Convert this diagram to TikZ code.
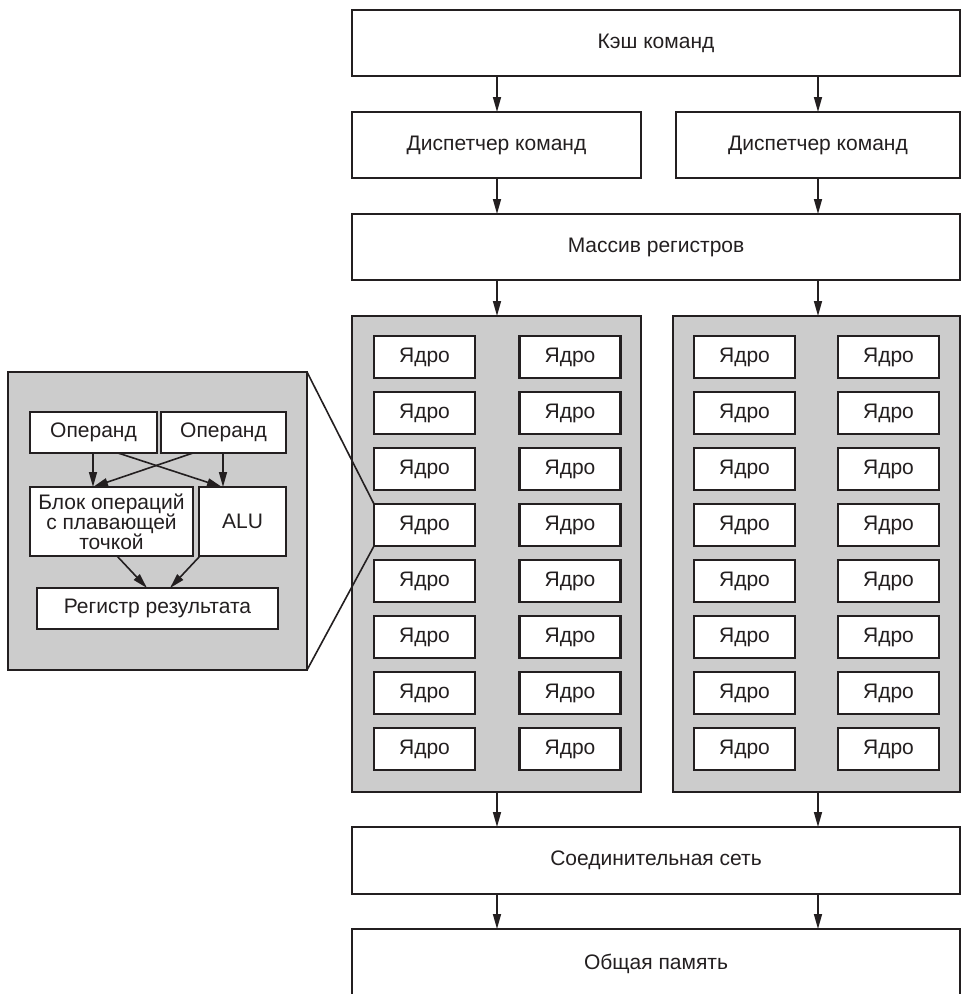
\documentclass[tikz,border=0pt]{standalone}
\usepackage{fontspec}
\setmainfont{Liberation Sans}
\usetikzlibrary{arrows.meta}
\definecolor{ink}{RGB}{35,31,32}
\definecolor{panelgray}{RGB}{204,204,204}
\begin{document}
\begin{tikzpicture}[x=1pt,y=-1pt,
  every node/.style={font=\fontsize{21}{20}\selectfont, text=ink},
  blk/.style n args={2}{draw=ink, line width=2.3pt, fill=white,
    minimum width=#1pt, minimum height=#2pt, inner sep=0pt, outer sep=0pt},
  panel/.style n args={2}{draw=ink, line width=2.3pt, fill=panelgray,
    minimum width=#1pt, minimum height=#2pt, inner sep=0pt, outer sep=0pt},
  core/.style={blk={101}{42}},
  arr/.style={draw=ink, line width=1.6pt, -{Triangle[length=15pt,width=8pt]}},
  zoomline/.style={draw=ink, line width=1.6pt}]
\useasboundingbox (0,0) rectangle (961,994);

% column positions of the vertical data paths
\coordinate (colL) at (497,0);
\coordinate (colR) at (818,0);

% main pipeline
\node[blk={608}{66}] (cache) at (656,43) {Кэш команд};
\node[blk={289}{66}] (disp1) at (496.5,145) {Диспетчер команд};
\node[blk={284}{66}] (disp2) at (818,145) {Диспетчер команд};
\node[blk={608}{66}] (regs) at (656,247) {Массив регистров};
\node[panel={289}{476}] (panelL) at (496.5,554) {};
\node[panel={287}{476}] (panelR) at (816.5,554) {};
\node[blk={608}{67}] (net) at (656,860.5) {Соединительная сеть};
\node[blk={608}{70}] (mem) at (656,964) {Общая память};

% cores: columns 1-2 in the left panel, 3-4 in the right panel
\foreach \c/\x in {1/424.5,2/570,3/744.5,4/888.5}
  \foreach \r in {1,...,8}
    \node[core] (k-\c-\r) at (\x,{357+56*(\r-1)}) {Ядро};

% vertical arrows
\foreach \col in {colL,colR} {
  \draw[arr] (cache.south -| \col) -- (disp1.north -| \col);
  \draw[arr] (disp1.south -| \col) -- (regs.north -| \col);
  \draw[arr] (regs.south -| \col) -- (panelL.north -| \col);
  \draw[arr] (panelL.south -| \col) -- (net.north -| \col);
  \draw[arr] (net.south -| \col) -- (mem.north -| \col);
}

% magnified core
\node[panel={299}{298}] (inset) at (157.5,521) {};
\node[blk={127}{41}] (op1) at (93.5,432.5) {Операнд};
\node[blk={125}{41}] (op2) at (223.5,432.5) {Операнд};
\node[blk={163}{69}, align=center] (fpu) at (111.5,521.5)
  {Блок операций\\с плавающей\\точкой};
\node[blk={87}{69}] (alu) at (242.5,521.5) {ALU};
\node[blk={241}{41}] (res) at (157.5,608.5) {Регистр результата};

\draw[arr] ([xshift=63pt]op1.south west) -- ([xshift=63pt]fpu.north west);
\draw[arr] ([xshift=62pt]op2.south west) -- ([xshift=24pt]alu.north west);
\draw[arr] ([xshift=88pt]op1.south west) -- ([xshift=23pt]alu.north west);
\draw[arr] ([xshift=32pt]op2.south west) -- ([xshift=63pt]fpu.north west);
\draw[arr] ([xshift=87pt]fpu.south west) -- ([xshift=110pt]res.north west);
\draw[arr] ([xshift=1pt]alu.south west) -- ([xshift=133pt]res.north west);

% lines linking the magnified view to its core
\draw[zoomline] (inset.north east) -- (k-1-4.north west);
\draw[zoomline] (inset.south east) -- (k-1-4.south west);
\end{tikzpicture}
\end{document}
